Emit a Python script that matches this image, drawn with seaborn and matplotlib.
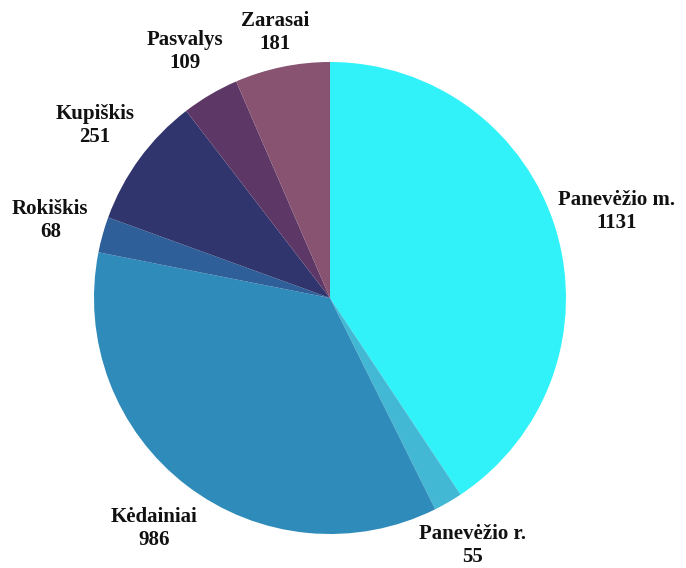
import matplotlib
matplotlib.use("Agg")
import matplotlib.pyplot as plt
import numpy as np
import seaborn as sns

# data
districts = ["Panevėžio m.", "Panevėžio r.", "Kėdainiai", "Rokiškis",
             "Kupiškis", "Pasvalys", "Zarasai"]
counts = [1131, 55, 986, 68, 251, 109, 181]
colors = ["#31F2F8", "#42B8D5", "#2E8BBA", "#2E5F98",
          "#30356D", "#5D3866", "#875371"]
# label distance from centre (in radii), nudged like the reference
label_dist = [1.27, 1.21, 1.23, 1.23, 1.235, 1.21, 1.15]

sns.set_theme(style="white")
plt.rcParams["font.family"] = ["Liberation Serif", "DejaVu Serif"]

fig = plt.figure(figsize=(6.86, 5.68), dpi=100)
# pie centre ~ (330, 298) px, radius ~236 px
ax = fig.add_axes([94 / 686, 34 / 568, 472 / 686, 472 / 568])

labels = [f"{d}\n{c}" for d, c in zip(districts, counts)]
wedges, texts = ax.pie(
    counts,
    labels=labels,
    colors=sns.color_palette(colors),
    startangle=90,
    counterclock=False,
    labeldistance=1.24,
    radius=1,
    wedgeprops={"linewidth": 0},
    textprops={"fontsize": 15, "fontweight": "bold", "color": "#111111"},
)
for w, t, d in zip(wedges, texts, label_dist):
    ang = np.deg2rad((w.theta1 + w.theta2) / 2)
    t.set_position((d * np.cos(ang), d * np.sin(ang)))
    t.set_ha("center")
    t.set_va("center")
    t.set_clip_on(False)

ax.set_xlim(-1, 1)
ax.set_ylim(-1, 1)
ax.set_aspect("equal")
ax.axis("off")

fig.savefig("out.png", dpi=100)
plt.close(fig)
